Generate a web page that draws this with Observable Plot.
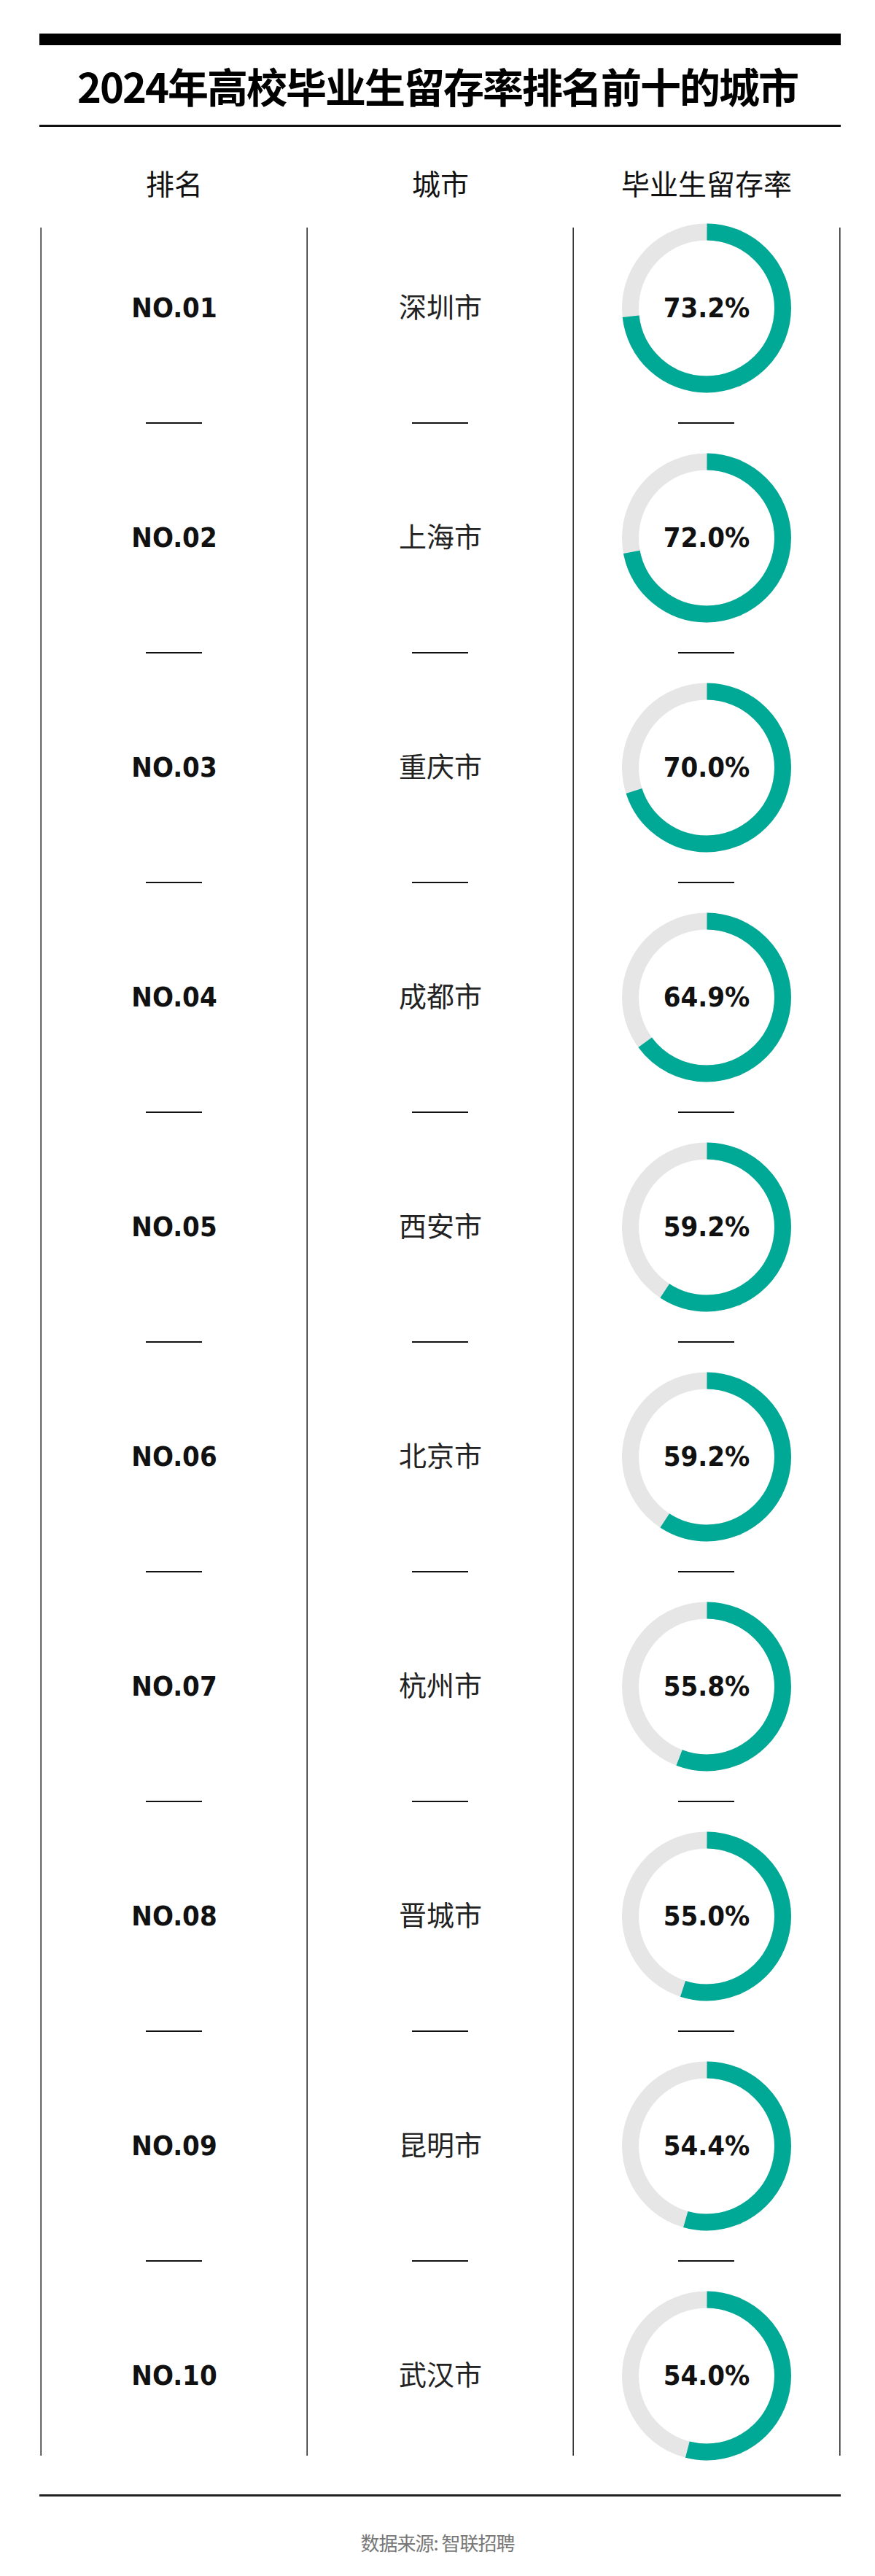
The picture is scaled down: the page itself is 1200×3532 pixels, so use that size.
<!DOCTYPE html>
<html>
<head>
<meta charset="utf-8">
<script src="https://cdn.jsdelivr.net/npm/d3@7"></script>
<script src="https://cdn.jsdelivr.net/npm/@observablehq/plot@0.6"></script>
<style>
  body { margin: 0; background: #fff; width: 1200px; font-family: "Noto Sans CJK SC", sans-serif; }
  .head { height: 190px; position: relative; }
  .bar { position: absolute; left: 54px; width: 1099px; top: 46px; height: 16px; background: #000; }
  .title { position: absolute; left: 0; width: 1200px; top: 82px; text-align: center; font-size: 56px; font-weight: 700; line-height: 70px; letter-spacing: -2px; }
  .rule { position: absolute; left: 54px; width: 1099px; top: 171px; height: 3px; background: #111; }
  .foot { height: 92px; text-align: center; color: #777; font-size: 26px; line-height: 92px; letter-spacing: -1px; }
  .num text { font-stretch: condensed; }
</style>
</head>
<body>
<div class="head"><div class="bar"></div><div class="title">2024年高校毕业生留存率排名前十的城市</div><div class="rule"></div></div>
<div id="chart"></div>
<div class="foot">数据来源: 智联招聘</div>
<script>
// 表格数据
const columns = ["排名", "城市", "毕业生留存率"];
const ranks = ["NO.01", "NO.02", "NO.03", "NO.04", "NO.05", "NO.06", "NO.07", "NO.08", "NO.09", "NO.10"];
const cities = ["深圳市", "上海市", "重庆市", "成都市", "西安市", "北京市", "杭州市", "晋城市", "昆明市", "武汉市"];
const rates = [73.2, 72.0, 70.0, 64.9, 59.2, 59.2, 55.8, 55.0, 54.4, 54.0];

const rows = ranks.map((rank, i) => ({i, rank, city: cities[i], rate: rates[i]}));

const numFont = '"DejaVu Sans Condensed", "DejaVu Sans", sans-serif';
const R = 104.5;
const C = 2 * Math.PI * R;
const bw = (1152 - 55) / 3;

// 每一行一个环形进度
const arcs = rows.map(d => Plot.dot([d], {
  x: () => columns[2], y: "i", r: R,
  stroke: "#00a896", strokeWidth: 23, fill: "none",
  strokeDasharray: `${C * d.rate / 100} ${C * (1 - d.rate / 100)}`,
  strokeDashoffset: C / 4
}));

const chart = Plot.plot({
  width: 1200,
  height: 3250,
  marginTop: 100,
  x: {type: "band", domain: columns, range: [55, 1152], padding: 0},
  y: {type: "linear", domain: [0, 9], range: [232, 3067], axis: null},
  style: {fontFamily: '"Noto Sans CJK SC", sans-serif', color: "#111", background: "#fff"},
  marks: [
    Plot.axisX({anchor: "top", tickSize: 0, tickPadding: 24, fontSize: 39, label: null}),
    // 竖线
    Plot.ruleX(columns, {x: d => d, y1: 0, y2: 9, dx: -bw / 2, insetTop: -110, insetBottom: -110, stroke: "#222", strokeWidth: 1.5}),
    Plot.ruleX([columns[2]], {x: d => d, y1: 0, y2: 9, dx: bw / 2, insetTop: -110, insetBottom: -110, stroke: "#222", strokeWidth: 1.5}),
    // 行间短横线
    ...columns.map(c => Plot.tickY(rows.slice(0, 9), {x: () => c, y: d => d.i + 0.5, insetLeft: 144, insetRight: 144, stroke: "#111", strokeWidth: 2})),
    // 灰色底环
    Plot.dot(rows, {x: () => columns[2], y: "i", r: R, stroke: "#e6e6e6", strokeWidth: 23, fill: "none"}),
    ...arcs,
    Plot.text(rows, {x: () => columns[0], y: "i", text: "rank", fontSize: 38, fontWeight: 700, fontFamily: numFont, fill: "#111", className: "num"}),
    Plot.text(rows, {x: () => columns[1], y: "i", text: "city", fontSize: 38, fill: "#222"}),
    Plot.text(rows, {x: () => columns[2], y: "i", text: d => d.rate.toFixed(1) + "%", fontSize: 38, fontWeight: 700, fontFamily: numFont, fill: "#111", className: "num"})
  ]
});

document.getElementById("chart").appendChild(chart);
</script>
<div style="position:absolute;left:54px;width:1099px;top:3420px;height:3px;background:#222"></div>
</body>
</html>
